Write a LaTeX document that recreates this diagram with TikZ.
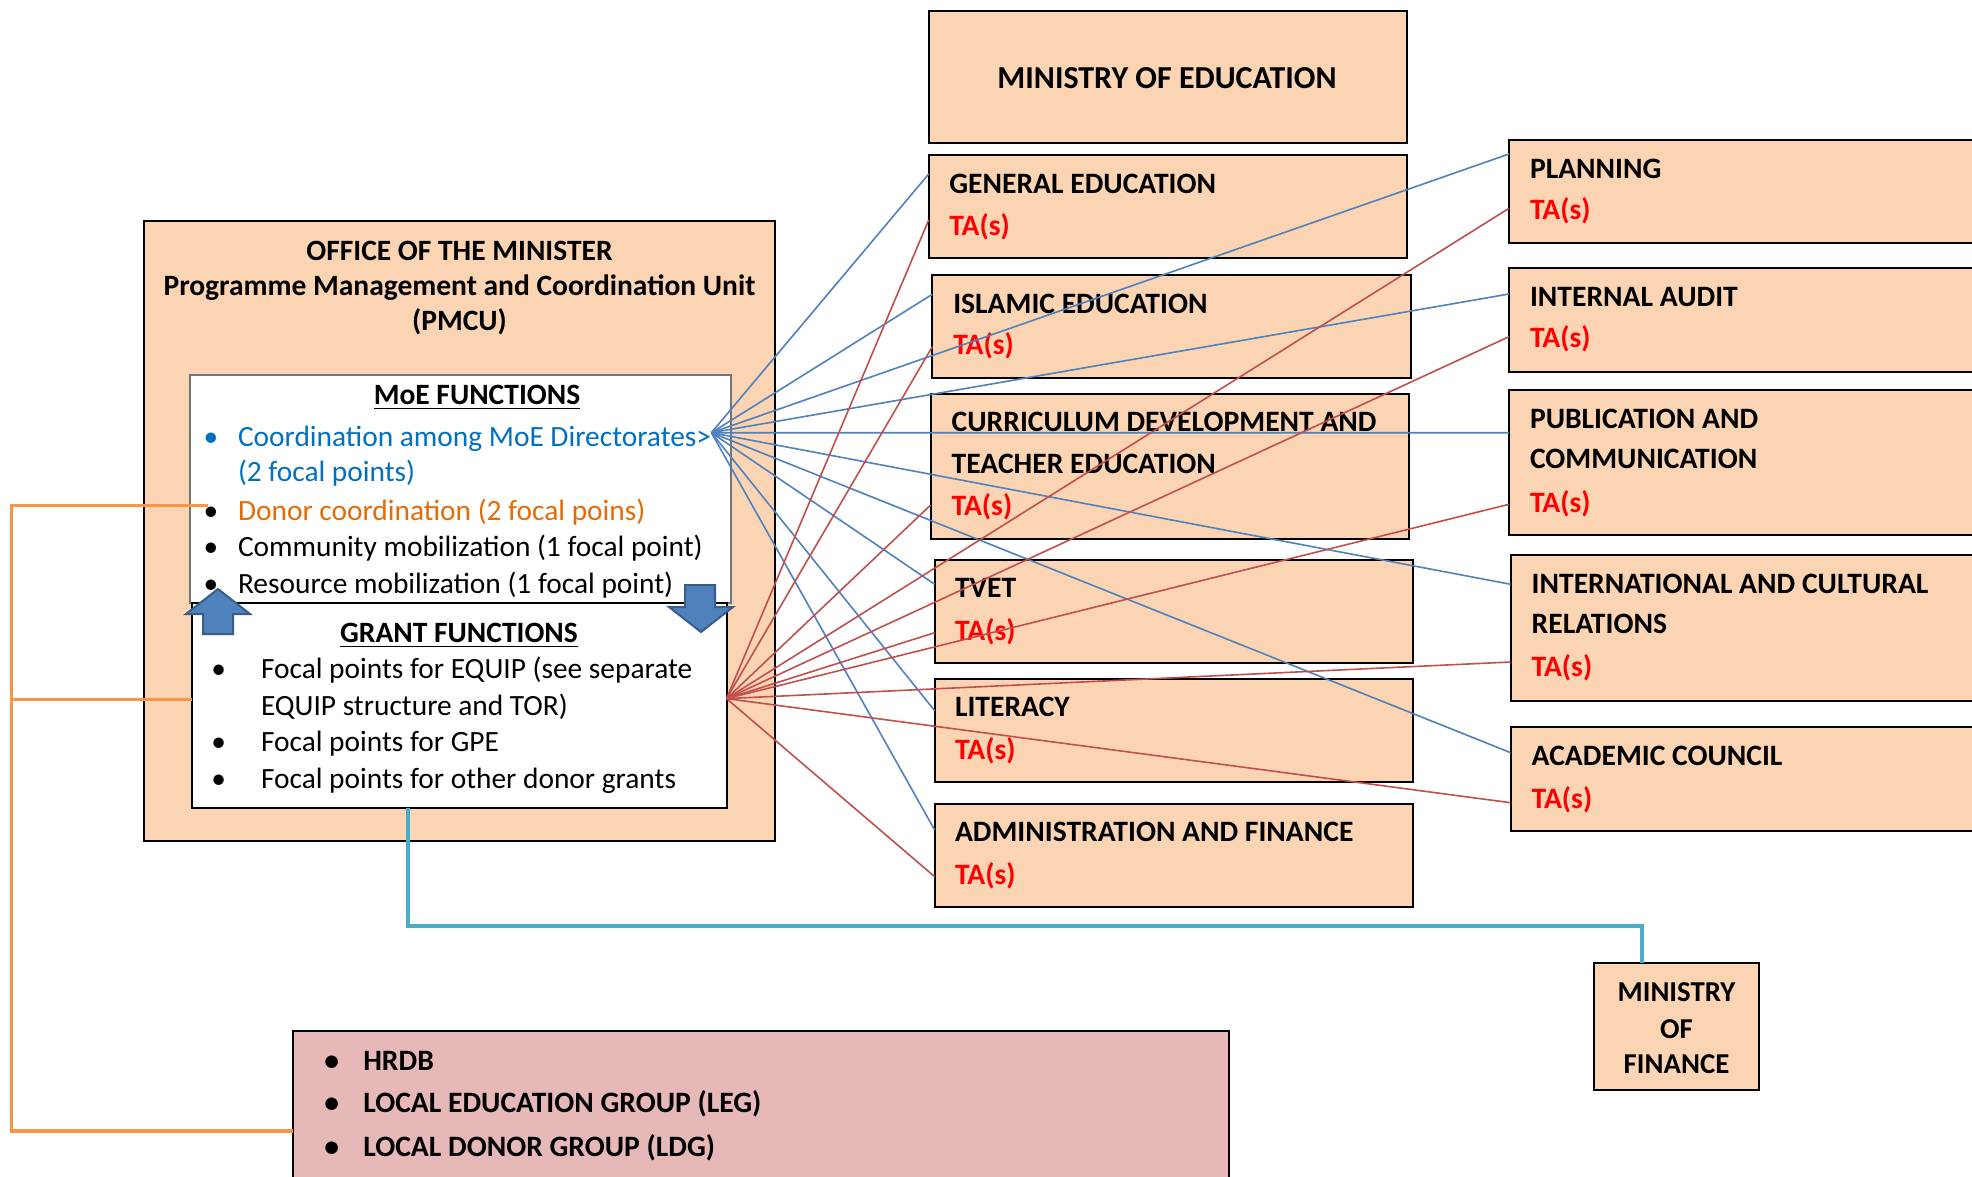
\documentclass[tikz,border=0pt]{standalone}
\usepackage{fontspec}
\setmainfont{Carlito}
\usetikzlibrary{calc}
\definecolor{peach}{HTML}{FBD4B4}
\definecolor{pinkbox}{HTML}{E6B8B7}
\definecolor{lnblue}{HTML}{4F81BD}
\definecolor{lnred}{HTML}{C0504D}
\definecolor{txtblue}{HTML}{0070C0}
\definecolor{txtorange}{HTML}{E36C09}
\definecolor{conorange}{HTML}{F79646}
\definecolor{conteal}{HTML}{4BACC6}
\definecolor{arrfill}{HTML}{4F81BD}
\definecolor{arrline}{HTML}{385D8A}
\definecolor{tared}{HTML}{FF0000}
\begin{document}
\begin{tikzpicture}[x=0.5pt,y=-0.5pt,
  box/.style={draw=black, line width=1.1pt, fill=peach, anchor=north west, inner sep=0pt, outer sep=0pt},
  wbox/.style={draw=black, line width=1pt, fill=white, anchor=north west, inner sep=0pt, outer sep=0pt},
  txt/.style={inner sep=0pt, outer sep=0pt, font=\fontsize{14.7}{17}\selectfont},
  lbl/.style={txt, anchor=base west, font=\fontsize{14.8}{17}\selectfont\bfseries},
  talbl/.style={lbl, text=tared},
  itm/.style={txt, anchor=base west},
  bul/.style={txt, anchor=base},
  ttl/.style={txt, anchor=base, font=\fontsize{14.75}{17}\selectfont\bfseries},
  pinklbl/.style={lbl, font=\fontsize{14.8}{17}\selectfont\bfseries},
  moflbl/.style={txt, anchor=base, font=\fontsize{14.4}{17}\selectfont\bfseries},
  blueln/.style={draw=lnblue, line width=0.8pt},
  redln/.style={draw=lnred, line width=0.8pt},
  orangec/.style={draw=conorange, line width=1.8pt},
  tealc/.style={draw=conteal, line width=2pt},
  blockarrow/.style={fill=arrfill, draw=arrline, line width=1pt, line join=miter}
]
\clip (0,0) rectangle (1972,1177);
\fill[white] (0,0) rectangle (1972,1177);

% ---------------- left office box
\node[box, minimum width=315.5pt, minimum height=310pt] (office) at (144,221) {};
\node[ttl] (t1) at (459.5,260) {OFFICE OF THE MINISTER};
\node[ttl] (t2) at (459.5,295) {Programme Management and Coordination Unit};
\node[ttl] (t3) at (459.5,330) {(PMCU)};

\node[wbox, draw=black!55, line width=0.8pt, minimum width=270.5pt, minimum height=114pt] (moefn) at (190,375) {};
\node[wbox, minimum width=267.25pt, minimum height=102.5pt] (grant) at (192,603) {};

\node[ttl] (moeh) at (477,404) {MoE FUNCTIONS};
\draw[line width=0.8pt] ([yshift=-2.2pt]moeh.base west) -- ([yshift=-2.2pt]moeh.base east);

\node[bul, text=txtblue] (b1) at (211,446.7) {\textbullet};
\node[itm, text=txtblue] (i1) at (238,446.7) {Coordination among MoE Directorates>};
\node[itm, text=txtblue] (i1b) at (238,481.4) {(2 focal points)};
\node[bul] (b2) at (211,520.2) {\textbullet};
\node[itm, text=txtorange] (i2) at (238,520.2) {Donor coordination (2 focal poins)};
\node[bul] (b3) at (211,556.9) {\textbullet};
\node[itm] (i3) at (238,556.9) {Community mobilization (1 focal point)};
\node[bul] (b4) at (211,593.7) {\textbullet};
\node[itm] (i4) at (238,593.7) {Resource mobilization (1 focal point)};

\node[ttl] (granth) at (459,642) {GRANT FUNCTIONS};
\draw[line width=0.8pt] ([yshift=-2.2pt]granth.base west) -- ([yshift=-2.2pt]granth.base east);

\node[bul] (g1b) at (218.8,678.6) {\textbullet};
\node[itm] (g1) at (261,678.6) {Focal points for EQUIP (see separate};
\node[itm] (g1c) at (261,715) {EQUIP structure and TOR)};
\node[bul] (g2b) at (218.8,751) {\textbullet};
\node[itm] (g2) at (261,751) {Focal points for GPE};
\node[bul] (g3b) at (218.8,788.8) {\textbullet};
\node[itm] (g3) at (261,788.8) {Focal points for other donor grants};

% ---------------- middle column
\node[box, minimum width=239.15pt, minimum height=66pt] (moe) at (928.7,11) {};
\node[txt, anchor=base, font=\fontsize{16}{19}\selectfont\bfseries] (moet) at (1167,88.3) {MINISTRY OF EDUCATION};

\node[box, minimum width=239.15pt, minimum height=51.5pt] (gen) at (928.7,155.3) {};
\node[lbl] (gent) at (949.3,193.3) {GENERAL EDUCATION};
\node[talbl] (genta) at (949.3,235) {TA(s)};

\node[box, minimum width=239.35pt, minimum height=51.5pt] (isl) at (932.3,275.3) {};
\node[lbl] (islt) at (953.3,313.3) {ISLAMIC EDUCATION};
\node[talbl] (islta) at (953.3,354.3) {TA(s)};

\node[box, minimum width=239.3pt, minimum height=72.35pt] (cur) at (930.7,394.3) {};
\node[lbl] (curt) at (951.7,431.7) {CURRICULUM DEVELOPMENT AND};
\node[lbl] (curt2) at (951.7,473.3) {TEACHER EDUCATION};
\node[talbl] (curta) at (951.7,515) {TA(s)};

\node[box, minimum width=239.3pt, minimum height=51.65pt] (tvet) at (934.7,560) {};
\node[lbl] (tvett) at (955,597.7) {TVET};
\node[talbl] (tvetta) at (955,640.7) {TA(s)};

\node[box, minimum width=239.3pt, minimum height=51.65pt] (lit) at (934.7,679) {};
\node[lbl] (litt) at (955,716.7) {LITERACY};
\node[talbl] (litta) at (955,759.3) {TA(s)};

\node[box, minimum width=239.3pt, minimum height=51.5pt] (adm) at (934.7,803.7) {};
\node[lbl] (admt) at (955,841.7) {ADMINISTRATION AND FINANCE};
\node[talbl] (admta) at (955,884.3) {TA(s)};

% ---------------- right column
\node[box, minimum width=245pt, minimum height=51.65pt] (plan) at (1509,140) {};
\node[lbl] (plant) at (1530,178.3) {PLANNING};
\node[talbl] (planta) at (1530,219.3) {TA(s)};

\node[box, minimum width=245pt, minimum height=52pt] (ia) at (1509,267.7) {};
\node[lbl] (iat) at (1530,306) {INTERNAL AUDIT};
\node[talbl] (iata) at (1530,347.7) {TA(s)};

\node[box, minimum width=245pt, minimum height=72.5pt] (pub) at (1509,390) {};
\node[lbl] (pubt) at (1530,428.3) {PUBLICATION AND};
\node[lbl] (pubt2) at (1530,468.3) {COMMUNICATION};
\node[talbl] (pubta) at (1530,512.7) {TA(s)};

\node[box, minimum width=245pt, minimum height=72.85pt] (intl) at (1510.7,555) {};
\node[lbl] (intlt) at (1531.7,593.3) {INTERNATIONAL AND CULTURAL};
\node[lbl] (intlt2) at (1531.7,633.3) {RELATIONS};
\node[talbl] (intlta) at (1531.7,676.7) {TA(s)};

\node[box, minimum width=245pt, minimum height=51.85pt] (ac) at (1510.7,727.3) {};
\node[lbl] (act) at (1531.7,765) {ACADEMIC COUNCIL};
\node[talbl] (acta) at (1531.7,808.3) {TA(s)};

% ---------------- ministry of finance
\node[box, minimum width=82.2pt, minimum height=63.35pt] (mof) at (1594.3,963.3) {};
\node[moflbl] (mof1) at (1676.5,1001.7) {MINISTRY};
\node[moflbl] (mof2) at (1676.5,1038.3) {OF};
\node[moflbl] (mof3) at (1676.5,1073.3) {FINANCE};

% ---------------- pink box
\node[box, fill=pinkbox, minimum width=467.85pt, minimum height=90pt] (pink) at (293.3,1030.7) {};
\node[bul, font=\fontsize{14.8}{17}\selectfont\bfseries] (p1b) at (331.7,1070.7) {\textbullet};
\node[pinklbl] (p1) at (363.3,1070.7) {HRDB};
\node[bul, font=\fontsize{14.8}{17}\selectfont\bfseries] (p2b) at (331.7,1112.7) {\textbullet};
\node[pinklbl] (p2) at (363.3,1112.7) {LOCAL EDUCATION GROUP (LEG)};
\node[bul, font=\fontsize{14.8}{17}\selectfont\bfseries] (p3b) at (331.7,1156.7) {\textbullet};
\node[pinklbl] (p3) at (363.3,1156.7) {LOCAL DONOR GROUP (LDG)};

% ---------------- hubs
\coordinate (hubB) at (711.4,432.7);
\coordinate (hubR) at (726.5,698.6);

% blue connectors
\draw[blueln] (hubB) -- ([yshift=-9.35pt]gen.north west);
\draw[blueln] (hubB) -- ([yshift=-9.5pt]isl.north west);
\draw[blueln] (hubB) -- ([yshift=-7pt]plan.north west);
\draw[blueln] (hubB) -- ([yshift=-13.15pt]ia.north west);
\draw[blueln] (hubB) -- ([yshift=-21.35pt]pub.north west);
\draw[blueln] (hubB) -- ([yshift=-14.65pt]intl.north west);
\draw[blueln] (hubB) -- ([yshift=-12.7pt]ac.north west);
\draw[blueln] (hubB) -- ([yshift=-12.15pt]tvet.north west);
\draw[blueln] (hubB) -- ([yshift=-15.85pt]lit.north west);
\draw[blueln] (hubB) -- ([yshift=-13.15pt]adm.north west);

% red connectors
\draw[redln] (hubR) -- ([yshift=-32.35pt]gen.north west);
\draw[redln] (hubR) -- ([yshift=-35.7pt]isl.north west);
\draw[redln] (hubR) -- ([yshift=-55.35pt]cur.north west);
\draw[redln] (hubR) -- ([yshift=-34.15pt]plan.north west);
\draw[redln] (hubR) -- ([yshift=-34.5pt]ia.north west);
\draw[redln] (hubR) -- ([yshift=-57.15pt]pub.north west);
\draw[redln] (hubR) -- ([yshift=-36.35pt]tvet.north west);
\draw[redln] (hubR) -- ([yshift=-53.5pt]intl.north west);
\draw[redln] (hubR) -- ([yshift=-37.7pt]ac.north west);
\draw[redln] (hubR) -- ([yshift=-36.5pt]adm.north west);

% block arrows
\draw[blockarrow] (203,634) -- (203,614) -- (186,614) -- (218,589) -- (250,614) -- (233,614) -- (233,634) -- cycle;
\draw[blockarrow] (685,585) -- (715,585) -- (715,607) -- (733,607) -- (701,632) -- (669,607) -- (685,607) -- cycle;

% teal connector to ministry of finance
\coordinate (tealstart) at ([xshift=108pt]grant.south west);
\coordinate (tealend) at ([xshift=24pt]mof.north west);
\draw[tealc] (tealstart) -- ++(0,118) -| (tealend);

% orange connector
\coordinate (donorpt) at (207.5,505.6);
\coordinate (otop) at (11.3,505.6);
\coordinate (grantin) at ([yshift=-48.15pt]grant.north west);
\coordinate (pinkin) at ([yshift=-50pt]pink.north west);
\draw[orangec] (donorpt) -- (otop) |- (pinkin);
\draw[orangec] (otop |- grantin) -- (grantin);
\end{tikzpicture}
\end{document}
